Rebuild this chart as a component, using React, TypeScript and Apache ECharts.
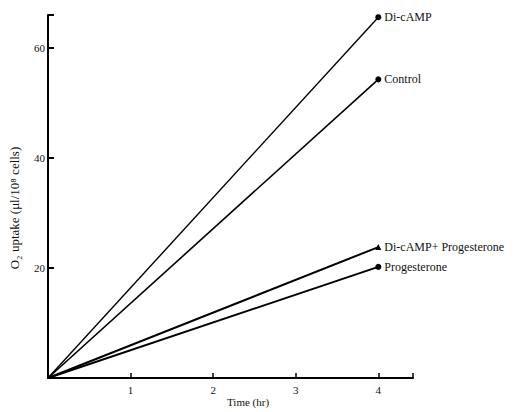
import React, { useEffect, useRef } from "react";
import * as echarts from "echarts";

const times = [0, 4];
const seriesNames = ["Di-cAMP", "Control", "Di-cAMP+ Progesterone", "Progesterone"];
const diCampValues = [0, 65.6];
const controlValues = [0, 54.3];
const diCampProgValues = [0, 23.8];
const progValues = [0, 20.2];
const symbols = ["circle", "circle", "triangle", "circle"];
const yTicks = [20, 40, 60];
const xTicks = [1, 2, 3, 4];

const FONT = "'Liberation Serif', 'DejaVu Serif', serif";

export default function App() {
  const ref = useRef<HTMLDivElement>(null);
  useEffect(() => {
    if (!ref.current) return;
    const chart = echarts.init(ref.current, undefined, { renderer: "svg" });
    const all = [diCampValues, controlValues, diCampProgValues, progValues];
    const widths = [1.4, 1.6, 2, 2];
    chart.setOption({
      animation: false,
      backgroundColor: "#fff",
      grid: { left: 48, top: 15, right: 118, bottom: 34, containLabel: false },
      xAxis: {
        type: "value",
        min: 0,
        max: 4.42,
        interval: 1,
        axisLine: { show: true, lineStyle: { color: "#000", width: 2 } },
        axisTick: { show: true, inside: true, length: 5, lineStyle: { color: "#000", width: 1.5 } },
        splitLine: { show: false },
        axisLabel: {
          color: "#111",
          fontFamily: FONT,
          fontSize: 11,
          margin: 6,
          formatter: (v: number) => (xTicks.includes(v) ? String(v) : ""),
        },
      },
      yAxis: {
        type: "value",
        min: 0,
        max: 66,
        interval: 20,
        axisLine: { show: true, lineStyle: { color: "#000", width: 2 } },
        axisTick: { show: true, inside: true, length: 6, lineStyle: { color: "#000", width: 2 } },
        splitLine: { show: false },
        axisLabel: {
          color: "#111",
          fontFamily: FONT,
          fontSize: 11,
          margin: 3,
          formatter: (v: number) => (yTicks.includes(v) ? String(v) : ""),
        },
      },
      graphic: [
        {
          type: "text",
          left: 227,
          top: 396,
          style: { text: "Time (hr)", font: `11px ${FONT}`, fill: "#111" },
        },
        {
          type: "text",
          x: 14,
          y: 208,
          rotation: Math.PI / 2,
          style: {
            text: "O₂ uptake (μl/10⁸ cells)",
            font: `13px ${FONT}`,
            fill: "#111",
            align: "center",
            verticalAlign: "middle",
          },
        },
      ],
      series: all.map((vals, i) => ({
        type: "line",
        name: seriesNames[i],
        data: vals.map((v, j) => ({
          value: [times[j], v],
          symbol: j === 0 ? "none" : symbols[i],
          symbolSize: 6,
          label: {
            show: j === vals.length - 1,
            position: "right",
            distance: 3,
            formatter: seriesNames[i],
            color: "#111",
            fontFamily: FONT,
            fontSize: 12,
          },
        })),
        lineStyle: { color: "#000", width: widths[i] },
        itemStyle: { color: "#000" },
        showSymbol: true,
      })),
    });
    return () => chart.dispose();
  }, []);
  return (
    <div
      ref={ref}
      style={{ position: "fixed", left: 0, top: 0, width: 531, height: 412 }}
    />
  );
}
